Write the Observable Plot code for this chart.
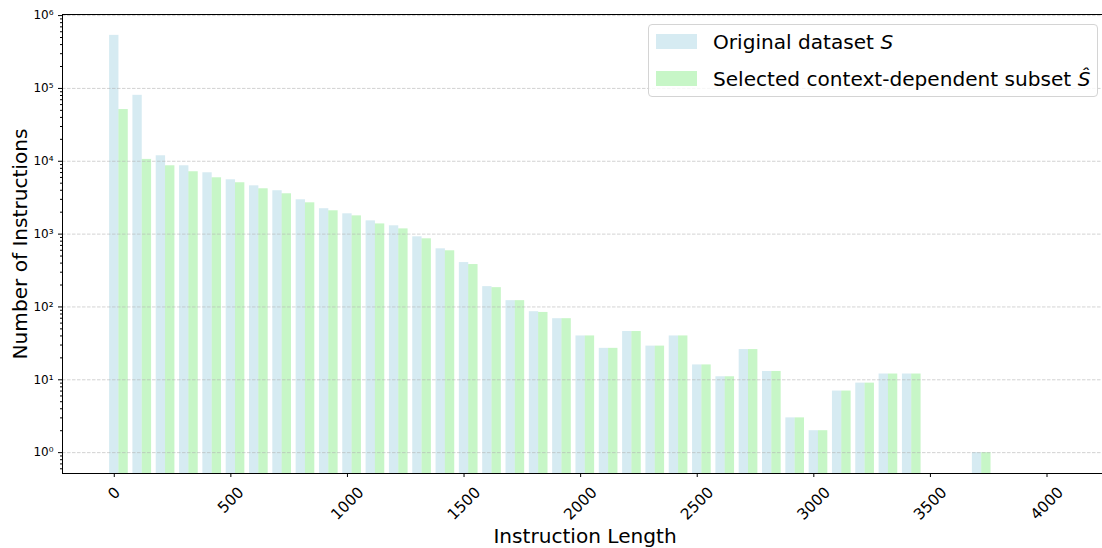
<!DOCTYPE html>
<html><head><meta charset="utf-8">
<script src="https://cdn.jsdelivr.net/npm/d3@7"></script>
<script src="https://cdn.jsdelivr.net/npm/@observablehq/plot@0.6"></script>
<style>
html,body{margin:0;padding:0;background:#fff;overflow:hidden}
#wrap{position:relative;width:1102px;height:548px;font-family:"DejaVu Sans",sans-serif}
#legend{position:absolute;left:648px;top:24px;width:448px;height:71px;border:1px solid #d4d4d4;border-radius:4px;background:rgba(255,255,255,0.8);font-size:20.1px;color:#000}
.row{position:absolute;left:7px;height:15px;display:flex;align-items:center;white-space:nowrap}
.sw{width:41px;height:15px;margin-right:16px;flex:none}
</style></head>
<body><div id="wrap"><div id="chart"></div><div id="legend"></div></div>
<script>
// bin start (instruction length), bins of width 100
const binStart = [0,100,200,300,400,500,600,700,800,900,1000,1100,1200,1300,1400,1500,1600,1700,1800,1900,2000,2100,2200,2300,2400,2500,2600,2700,2800,2900,3000,3100,3200,3300,3400,3500,3600,3700];
const original = [535000,80400,11900,8670,6950,5570,4600,3940,2960,2230,1900,1520,1300,918,628,407,190,122,86,69,40,27,46,29,40,16,11,26,13,3,2,7,9,12,12,0,0,1];
const selected = [51300,10600,8670,7180,5930,5070,4190,3580,2690,2090,1780,1380,1180,862,590,382,184,122,84,69,40,27,46,29,40,16,11,26,13,3,2,7,9,12,12,0,0,1];
const seriesLabels = ["Original dataset ", "Selected context-dependent subset "];
const seriesSymbols = ["S", "Ŝ"];
const xTicks = [0,500,1000,1500,2000,2500,3000,3500,4000];
const yTicks = [1,10,100,1000,10000,100000,1000000];
const xLabel = "Instruction Length";
const yLabel = "Number of Instructions";

const colors = ["lightblue", "lightgreen"];
const barW = 40;
const xDomain = [-222, 4238];
const yDomain = [0.517, 1.035e6];

const dataO = binStart.map((b, i) => ({bin: b, v: original[i]})).filter(d => d.v > 0);
const dataS = binStart.map((b, i) => ({bin: b, v: selected[i]})).filter(d => d.v > 0);

const sup = {"0":"⁰","1":"¹","2":"²","3":"³","4":"⁴","5":"⁵","6":"⁶","-":"⁻"};
const fmtY = d => "10" + String(Math.round(Math.log10(d))).split("").map(c => sup[c]).join("");

const minorTicks = [];
for (let e = -1; e <= 6; e++) for (let m = 2; m <= 9; m++) {
  const v = m * Math.pow(10, e);
  if (v >= yDomain[0] && v <= yDomain[1]) minorTicks.push(v);
}

const xFont = 15.3;
const xTickLabelMarks = xTicks.map(t => {
  const s = String(t);
  const L = s.length * 0.636 * xFont, h = 1.164 * xFont;
  return Plot.text([t], {x: d => d, text: d => String(d), frameAnchor: "bottom", rotate: -45,
    textAnchor: "middle", lineAnchor: "middle", dy: 10 + 0.3536 * (L + h), fontSize: xFont, fill: "black"});
});

const chart = Plot.plot({
  width: 1102, height: 548,
  marginLeft: 62, marginRight: 0, marginTop: 14, marginBottom: 75,
  style: {fontFamily: "DejaVu Sans, sans-serif", background: "white", color: "black"},
  x: {type: "linear", domain: xDomain},
  y: {type: "log", domain: yDomain},
  marks: [
    Plot.rectY(dataO, {x1: d => d.bin - barW/2, x2: d => d.bin + barW/2, y1: yDomain[0], y2: "v", fill: colors[0], fillOpacity: 0.5}),
    Plot.rectY(dataS, {x1: d => d.bin + barW/2, x2: d => d.bin + 3*barW/2, y1: yDomain[0], y2: "v", fill: colors[1], fillOpacity: 0.5}),
    Plot.gridY(yTicks, {stroke: "#b0b0b0", strokeOpacity: 0.7, strokeWidth: 0.8, strokeDasharray: "3.5,1.5"}),
    Plot.ruleY([yDomain[0]], {stroke: "black", strokeWidth: 1}),
    Plot.ruleY([yDomain[1]], {stroke: "black", strokeWidth: 1}),
    Plot.ruleX([xDomain[0]], {stroke: "black", strokeWidth: 1}),
    Plot.axisY({ticks: yTicks, tickSize: 4, tickPadding: 5, tickFormat: fmtY, fontSize: 12, label: null}),
    Plot.axisY({ticks: minorTicks, tickSize: 2, tickFormat: () => "", label: null}),
    Plot.axisX({ticks: xTicks, tickSize: 4, tickFormat: () => "", label: null}),
    ...xTickLabelMarks,
    Plot.text([xLabel], {frameAnchor: "bottom", lineAnchor: "bottom", dy: 69.7, dx: 2.5, fontSize: 20.1, fill: "black"}),
    Plot.text([yLabel], {frameAnchor: "left", rotate: -90, textAnchor: "middle", lineAnchor: "bottom", dx: -36, fontSize: 20.1, fill: "black"})
  ]
});
document.getElementById("chart").appendChild(chart);

const legend = document.getElementById("legend");
seriesLabels.forEach((lab, i) => {
  const row = document.createElement("div");
  row.className = "row";
  row.style.top = (i === 0 ? 9 : 46) + "px";
  const sw = document.createElement("div");
  sw.className = "sw";
  sw.style.background = colors[i];
  sw.style.opacity = 0.5;
  const span = document.createElement("span");
  span.textContent = lab;
  const it = document.createElement("i");
  it.textContent = seriesSymbols[i];
  span.appendChild(it);
  row.appendChild(sw);
  row.appendChild(span);
  legend.appendChild(row);
});
</script>
</body></html>
